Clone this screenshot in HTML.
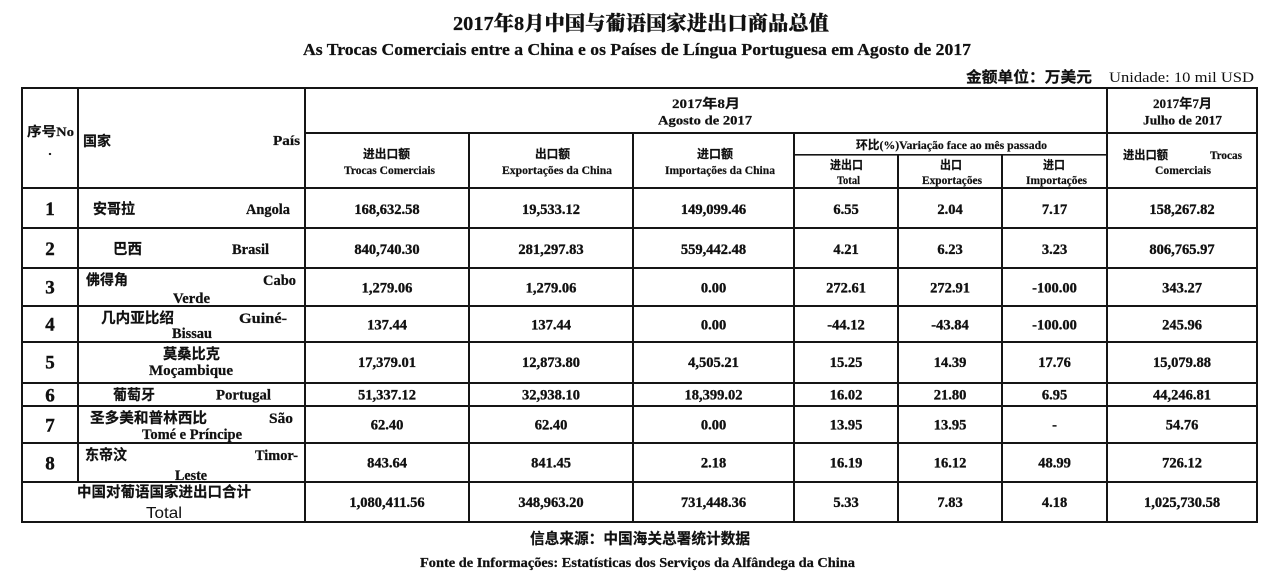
<!DOCTYPE html>
<html>
<head>
<meta charset="utf-8">
<style>
html,body{margin:0;padding:0;background:#fff;}
body{width:1280px;height:586px;overflow:hidden;}
svg{display:block;}
.s{font-family:"Liberation Serif","Noto Serif CJK SC",serif;font-weight:bold;fill:#111;stroke:#111;stroke-width:0.25;}
.c{font-family:"Liberation Serif","Noto Sans CJK SC",sans-serif;font-weight:bold;fill:#111;stroke:#111;stroke-width:0.2;}
.n{font-family:"Liberation Serif",serif;font-weight:bold;fill:#111;font-size:14.5px;stroke:#111;stroke-width:0.35;}
.h{font-family:"Liberation Serif","Noto Sans CJK SC",serif;font-weight:bold;fill:#111;font-size:12px;stroke:#111;stroke-width:0.2;}
.no{font-family:"Liberation Serif",serif;font-weight:bold;fill:#111;font-size:19px;stroke:#111;stroke-width:0.4;}
</style>
</head>
<body>
<svg width="1280" height="586" viewBox="0 0 1280 586" xmlns="http://www.w3.org/2000/svg">
<rect x="0" y="0" width="1280" height="586" fill="#fff"/>

<!-- Titles -->
<text class="s" x="453" y="30" font-size="20" textLength="376" lengthAdjust="spacingAndGlyphs" style="font-family:'Liberation Serif','Noto Serif CJK SC',serif;font-weight:900">2017年8月中国与葡语国家进出口商品总值</text>
<text class="s" x="303" y="55" font-size="17" textLength="668" lengthAdjust="spacingAndGlyphs">As Trocas Comerciais entre a China e os Países de Língua Portuguesa em Agosto de 2017</text>
<text class="c" x="966" y="82" font-size="15" textLength="126" lengthAdjust="spacingAndGlyphs">金额单位：万美元</text>
<text x="1109" y="82" font-size="15" textLength="145" lengthAdjust="spacingAndGlyphs" font-family="Liberation Serif, serif" fill="#111">Unidade: 10 mil USD</text>

<!-- Grid lines: horizontal -->
<g fill="#151515">
<rect x="21" y="87" width="1237" height="2"/>
<rect x="305" y="132" width="953" height="2"/>
<rect x="794" y="154" width="313" height="1.6"/>
<rect x="21" y="187" width="1237" height="2"/>
<rect x="21" y="227" width="1237" height="2"/>
<rect x="21" y="267" width="1237" height="2"/>
<rect x="21" y="305" width="1237" height="2"/>
<rect x="21" y="341" width="1237" height="2"/>
<rect x="21" y="382" width="1237" height="2"/>
<rect x="21" y="405" width="1237" height="2"/>
<rect x="21" y="442" width="1237" height="2"/>
<rect x="21" y="481" width="1237" height="2"/>
<rect x="21" y="521" width="1237" height="2"/>
<!-- vertical -->
<rect x="21" y="87" width="2" height="436"/>
<rect x="77" y="87" width="2" height="395"/>
<rect x="304" y="87" width="2" height="436"/>
<rect x="468" y="133" width="2" height="390"/>
<rect x="632" y="133" width="2" height="390"/>
<rect x="793" y="133" width="2" height="390"/>
<rect x="897" y="155" width="2" height="368"/>
<rect x="1001" y="155" width="2" height="368"/>
<rect x="1106" y="87" width="2" height="436"/>
<rect x="1256" y="87" width="2" height="436"/>
</g>

<!-- Header -->
<text class="c" x="27" y="136" font-size="13" textLength="47" lengthAdjust="spacingAndGlyphs">序号No</text>
<text class="s" x="50" y="155" font-size="13" text-anchor="middle">.</text>
<text class="c" x="83" y="146" font-size="14" textLength="28" lengthAdjust="spacingAndGlyphs">国家</text>
<text class="s" x="273" y="145" font-size="14" textLength="27" lengthAdjust="spacingAndGlyphs">País</text>

<text class="c" x="672" y="108" font-size="13" textLength="68" lengthAdjust="spacingAndGlyphs">2017年8月</text>
<text class="s" x="658" y="124.5" font-size="13" textLength="94" lengthAdjust="spacingAndGlyphs">Agosto de 2017</text>
<text class="c" x="1153" y="108" font-size="13" textLength="59" lengthAdjust="spacingAndGlyphs">2017年7月</text>
<text class="s" x="1143" y="124.5" font-size="13" textLength="79" lengthAdjust="spacingAndGlyphs">Julho de 2017</text>

<text class="h" x="363" y="158" textLength="47" lengthAdjust="spacingAndGlyphs">进出口额</text>
<text class="h" x="344" y="174" textLength="91" lengthAdjust="spacingAndGlyphs">Trocas Comerciais</text>
<text class="h" x="535" y="158" textLength="35" lengthAdjust="spacingAndGlyphs">出口额</text>
<text class="h" x="502" y="174" textLength="110" lengthAdjust="spacingAndGlyphs">Exportações da China</text>
<text class="h" x="697" y="158" textLength="36" lengthAdjust="spacingAndGlyphs">进口额</text>
<text class="h" x="665" y="174" textLength="110" lengthAdjust="spacingAndGlyphs">Importações da China</text>

<text class="h" x="856" y="149" textLength="191" lengthAdjust="spacingAndGlyphs">环比(%)Variação face ao mês passado</text>
<text class="h" x="830" y="169" textLength="33" lengthAdjust="spacingAndGlyphs">进出口</text>
<text class="h" x="837" y="184" textLength="23" lengthAdjust="spacingAndGlyphs">Total</text>
<text class="h" x="940" y="169" textLength="22" lengthAdjust="spacingAndGlyphs">出口</text>
<text class="h" x="922" y="184" textLength="60" lengthAdjust="spacingAndGlyphs">Exportações</text>
<text class="h" x="1043" y="169" textLength="22" lengthAdjust="spacingAndGlyphs">进口</text>
<text class="h" x="1026" y="184" textLength="61" lengthAdjust="spacingAndGlyphs">Importações</text>

<text class="h" x="1123" y="159" textLength="45" lengthAdjust="spacingAndGlyphs">进出口额</text>
<text class="h" x="1210" y="159" textLength="32" lengthAdjust="spacingAndGlyphs">Trocas</text>
<text class="h" x="1155" y="174" textLength="56" lengthAdjust="spacingAndGlyphs">Comerciais</text>

<!-- Row numbers -->
<g class="no" text-anchor="middle">
<text x="50" y="215">1</text>
<text x="50" y="255">2</text>
<text x="50" y="293.5">3</text>
<text x="50" y="330.5">4</text>
<text x="50" y="368.5">5</text>
<text x="50" y="401.5">6</text>
<text x="50" y="431.5">7</text>
<text x="50" y="469.5">8</text>
</g>

<!-- Country names -->
<g font-size="14.5">
<text class="c" x="93" y="214" textLength="42" lengthAdjust="spacingAndGlyphs">安哥拉</text>
<text class="s" x="246" y="214" textLength="44" lengthAdjust="spacingAndGlyphs">Angola</text>
<text class="c" x="113" y="254" textLength="29" lengthAdjust="spacingAndGlyphs">巴西</text>
<text class="s" x="232" y="254" textLength="37" lengthAdjust="spacingAndGlyphs">Brasil</text>
<text class="c" x="86" y="285" textLength="42" lengthAdjust="spacingAndGlyphs">佛得角</text>
<text class="s" x="263" y="285" textLength="33" lengthAdjust="spacingAndGlyphs">Cabo</text>
<text class="s" x="173" y="303" textLength="37" lengthAdjust="spacingAndGlyphs">Verde</text>
<text class="c" x="101" y="323" textLength="73" lengthAdjust="spacingAndGlyphs">几内亚比绍</text>
<text class="s" x="239" y="323" textLength="48" lengthAdjust="spacingAndGlyphs">Guiné-</text>
<text class="s" x="172" y="338" textLength="40" lengthAdjust="spacingAndGlyphs">Bissau</text>
<text class="c" x="163" y="359" textLength="57" lengthAdjust="spacingAndGlyphs">莫桑比克</text>
<text class="s" x="149" y="375" textLength="84" lengthAdjust="spacingAndGlyphs">Moçambique</text>
<text class="c" x="113" y="400" textLength="42" lengthAdjust="spacingAndGlyphs">葡萄牙</text>
<text class="s" x="216" y="399.5" textLength="55" lengthAdjust="spacingAndGlyphs">Portugal</text>
<text class="c" x="90" y="423" textLength="117" lengthAdjust="spacingAndGlyphs">圣多美和普林西比</text>
<text class="s" x="269" y="423" textLength="24" lengthAdjust="spacingAndGlyphs">São</text>
<text class="s" x="142" y="439" textLength="100" lengthAdjust="spacingAndGlyphs">Tomé e Príncipe</text>
<text class="c" x="85" y="460" textLength="42" lengthAdjust="spacingAndGlyphs">东帝汶</text>
<text class="s" x="255" y="460" textLength="43" lengthAdjust="spacingAndGlyphs">Timor-</text>
<text class="s" x="175" y="480" textLength="32" lengthAdjust="spacingAndGlyphs">Leste</text>
<text class="c" x="77" y="497" textLength="174" lengthAdjust="spacingAndGlyphs">中国对葡语国家进出口合计</text>
</g>
<text x="146" y="518" font-size="16" textLength="36" lengthAdjust="spacingAndGlyphs" font-family="Liberation Sans, sans-serif" fill="#111">Total</text>

<!-- Data -->
<g class="n" text-anchor="middle">
<!-- row 1 -->
<text x="387" y="214">168,632.58</text>
<text x="551" y="214">19,533.12</text>
<text x="713.5" y="214">149,099.46</text>
<text x="846" y="214">6.55</text>
<text x="950" y="214">2.04</text>
<text x="1054.5" y="214">7.17</text>
<text x="1182" y="214">158,267.82</text>
<!-- row 2 -->
<text x="387" y="254">840,740.30</text>
<text x="551" y="254">281,297.83</text>
<text x="713.5" y="254">559,442.48</text>
<text x="846" y="254">4.21</text>
<text x="950" y="254">6.23</text>
<text x="1054.5" y="254">3.23</text>
<text x="1182" y="254">806,765.97</text>
<!-- row 3 -->
<text x="387" y="292.5">1,279.06</text>
<text x="551" y="292.5">1,279.06</text>
<text x="713.5" y="292.5">0.00</text>
<text x="846" y="292.5">272.61</text>
<text x="950" y="292.5">272.91</text>
<text x="1054.5" y="292.5">-100.00</text>
<text x="1182" y="292.5">343.27</text>
<!-- row 4 -->
<text x="387" y="329.5">137.44</text>
<text x="551" y="329.5">137.44</text>
<text x="713.5" y="329.5">0.00</text>
<text x="846" y="329.5">-44.12</text>
<text x="950" y="329.5">-43.84</text>
<text x="1054.5" y="329.5">-100.00</text>
<text x="1182" y="329.5">245.96</text>
<!-- row 5 -->
<text x="387" y="367">17,379.01</text>
<text x="551" y="367">12,873.80</text>
<text x="713.5" y="367">4,505.21</text>
<text x="846" y="367">15.25</text>
<text x="950" y="367">14.39</text>
<text x="1054.5" y="367">17.76</text>
<text x="1182" y="367">15,079.88</text>
<!-- row 6 -->
<text x="387" y="399.5">51,337.12</text>
<text x="551" y="399.5">32,938.10</text>
<text x="713.5" y="399.5">18,399.02</text>
<text x="846" y="399.5">16.02</text>
<text x="950" y="399.5">21.80</text>
<text x="1054.5" y="399.5">6.95</text>
<text x="1182" y="399.5">44,246.81</text>
<!-- row 7 -->
<text x="387" y="429.5">62.40</text>
<text x="551" y="429.5">62.40</text>
<text x="713.5" y="429.5">0.00</text>
<text x="846" y="429.5">13.95</text>
<text x="950" y="429.5">13.95</text>
<text x="1054.5" y="429.5">-</text>
<text x="1182" y="429.5">54.76</text>
<!-- row 8 -->
<text x="387" y="467.5">843.64</text>
<text x="551" y="467.5">841.45</text>
<text x="713.5" y="467.5">2.18</text>
<text x="846" y="467.5">16.19</text>
<text x="950" y="467.5">16.12</text>
<text x="1054.5" y="467.5">48.99</text>
<text x="1182" y="467.5">726.12</text>
<!-- total -->
<text x="387" y="507">1,080,411.56</text>
<text x="551" y="507">348,963.20</text>
<text x="713.5" y="507">731,448.36</text>
<text x="846" y="507">5.33</text>
<text x="950" y="507">7.83</text>
<text x="1054.5" y="507">4.18</text>
<text x="1182" y="507">1,025,730.58</text>
</g>

<!-- Footer -->
<text class="c" x="530" y="543.5" font-size="15" textLength="220" lengthAdjust="spacingAndGlyphs">信息来源：中国海关总署统计数据</text>
<text class="s" x="420" y="567" font-size="14" textLength="435" lengthAdjust="spacingAndGlyphs">Fonte de Informações: Estatísticas dos Serviços da Alfândega da China</text>
</svg>
</body>
</html>
